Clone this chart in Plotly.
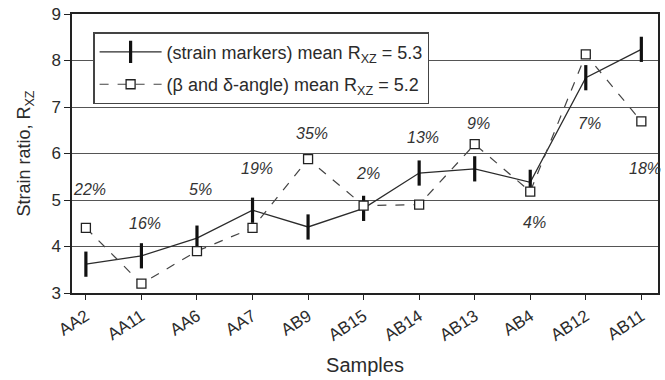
import plotly.graph_objects as go

samples = ["AA2", "AA11", "AA6", "AA7", "AB9", "AB15", "AB14", "AB13", "AB4", "AB12", "AB11"]
strain_markers = [3.62, 3.8, 4.18, 4.78, 4.42, 4.82, 5.58, 5.67, 5.38, 7.63, 8.24]
beta_delta = [4.4, 3.2, 3.9, 4.4, 5.88, 4.88, 4.9, 6.2, 5.18, 8.13, 6.69]
pct_labels = ["22%", "16%", "5%", "19%", "35%", "2%", "13%", "9%", "4%", "7%", "18%"]
pct_y = [5.22, 4.5, 5.22, 5.67, 6.42, 5.58, 6.34, 6.64, 4.52, 6.64, 5.67]

FONT = "Liberation Sans, Arial, sans-serif"
INK = "#2b2b2b"

fig = go.Figure()
fig.add_trace(go.Scatter(
    x=samples, y=strain_markers, mode="lines+markers",
    name="(strain markers) mean R<sub>XZ</sub> = 5.3", legendgroup="a",
    line=dict(color=INK, width=1.3),
    marker=dict(symbol="line-ns", size=18, line=dict(color="#111", width=3.2)),
))
fig.add_trace(go.Scatter(
    x=samples, y=beta_delta, mode="lines+markers",
    name="(β and δ-angle) mean R<sub>XZ</sub> = 5.2", legendgroup="b",
    line=dict(color="#444", width=1.2, dash="dash"),
    marker=dict(symbol="square", size=9, color="white", line=dict(color="#222", width=1.3)),
))

for s, t, yv in zip(samples, pct_labels, pct_y):
    fig.add_annotation(x=s, y=yv, text=t, showarrow=False, xshift=4,
                       font=dict(family=FONT, size=16, color="#333", style="italic"))

fig.update_layout(
    width=665, height=380,
    margin=dict(l=72, r=5, t=13, b=87),
    paper_bgcolor="white", plot_bgcolor="white",
    font=dict(family=FONT, size=16, color=INK),
    showlegend=True,
    legend=dict(x=0.036, y=0.935, xanchor="left", yanchor="top",
                bgcolor="white", bordercolor="#444", borderwidth=1.5,
                font=dict(family=FONT, size=18, color=INK),
                itemwidth=62, tracegroupgap=6, traceorder="grouped"),
)
fig.update_xaxes(
    range=[-0.25, 10.3], tickangle=-33, showgrid=False,
    showline=True, linecolor="#222", linewidth=1.5, mirror=True,
    ticks="outside", ticklen=5, tickcolor="#222",
    tickfont=dict(family=FONT, size=17, color=INK),
    title=dict(text="Samples", font=dict(family=FONT, size=20, color=INK), standoff=14),
)
fig.update_yaxes(
    range=[3, 9], dtick=1, showgrid=True, gridcolor="#555", gridwidth=1.3,
    showline=True, linecolor="#222", linewidth=1.5, mirror=True,
    ticks="outside", ticklen=6, tickcolor="#222",
    tickfont=dict(family=FONT, size=17, color=INK),
    title=dict(text="Strain ratio, R<sub>XZ</sub>", font=dict(family=FONT, size=18, color=INK), standoff=16),
)

fig.write_html("out.html")
